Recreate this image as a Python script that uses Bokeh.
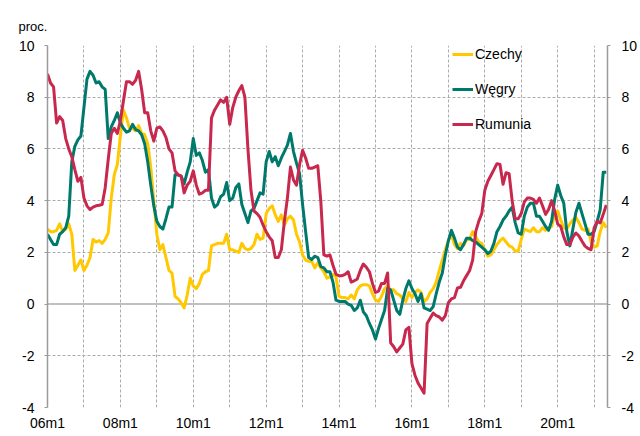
from bokeh.plotting import figure
from bokeh.models import (Range1d, FixedTicker, LinearAxis, Span, Title)
from bokeh.embed import file_html
from bokeh.resources import INLINE

# ---- data (monthly, 2006m1 .. 2021m5) ----
czechy = [
    2.9, 2.8, 2.8, 2.85, 3.1, 2.8, 2.9, 3.1, 2.7, 1.3, 1.5, 1.7,
    1.3, 1.5, 1.8, 2.5, 2.4, 2.45, 2.35, 2.5, 2.75, 4.1, 5.0, 5.4,
    6.5, 7.5, 7.2, 6.8, 6.8, 6.7, 6.9, 6.6, 6.55, 6.2, 5.3, 4.0,
    2.7, 2.1, 2.3, 1.8, 1.3, 1.2, 0.3, 0.2, 0.05, -0.15, 0.35, 1.0,
    0.7, 0.6, 0.8, 1.15, 1.25, 1.3, 2.25, 2.3, 2.35, 2.35, 2.35, 2.7,
    2.1, 2.1, 2.05, 2.0, 2.35, 2.15, 2.1, 2.15, 2.3, 2.7, 2.5, 2.55,
    3.5, 3.7, 3.8, 3.45, 3.2, 3.45, 3.05, 3.3, 3.4, 3.25, 2.7, 2.4,
    1.9, 1.7, 1.65, 1.65, 1.4, 1.6, 1.4, 1.25, 1.0, 1.05, 1.15, 1.05,
    0.3, 0.25, 0.25, 0.2, 0.35, 0.2, 0.55, 0.7, 0.75, 0.75, 0.7, 0.4,
    0.15, 0.1, 0.3, 0.6, 0.7, 0.55, 0.55, 0.4, 0.35, 0.2, 0.1, 0.45,
    0.25, 0.45, 0.55, 0.45, 0.1, 0.2, 0.45, 0.6, 0.85, 1.3, 1.7, 2.1,
    2.45, 2.7, 2.3, 2.15, 2.35, 2.25, 2.5, 2.5, 2.8, 2.6, 2.4, 2.35,
    2.1, 1.85, 1.9, 2.1, 2.3, 2.45, 2.55, 2.4, 2.25, 2.2, 2.05, 2.05,
    2.5, 2.9, 2.85, 2.8, 2.95, 2.8, 2.8, 2.95, 2.85, 2.95, 3.0, 3.45,
    3.6, 3.25, 2.95, 2.9, 3.1, 3.25, 3.35, 3.15, 2.9, 2.85, 2.9, 2.4,
    2.2, 2.25, 2.8, 3.15, 2.95,
]
wegry = [
    2.7, 2.5, 2.3, 2.3, 2.7, 2.8, 2.95, 3.4, 5.5, 6.1, 6.35, 6.5,
    7.6, 8.7, 9.0, 8.85, 8.55, 8.6, 8.4, 8.3, 6.4, 6.85, 7.1, 7.4,
    7.0, 6.8, 6.65, 6.7, 6.95, 6.75, 6.7, 6.55, 6.2, 5.5, 4.6, 3.8,
    3.2, 3.0, 2.9, 3.3, 3.75, 3.75, 5.0, 5.0, 4.95, 4.65, 5.1, 5.5,
    6.4, 5.75, 5.85, 5.55, 5.1, 5.2, 4.1, 3.75, 3.85, 4.15, 4.25, 4.7,
    4.0, 4.1, 4.5, 4.65, 3.85, 3.5, 3.15, 3.6, 3.7, 4.0, 4.3, 4.25,
    5.5, 5.9, 5.5, 5.7, 5.35, 5.65, 5.9, 6.15, 6.6, 5.9, 5.45, 5.05,
    3.85, 2.8, 1.8, 1.72, 1.85, 1.8, 1.45, 1.4, 1.25, 1.25, 0.85, 0.15,
    0.1, 0.1, 0.1, 0.0, -0.05, -0.25, -0.15, 0.15, -0.3, -0.45, -0.75, -1.0,
    -1.35, -0.95, -0.6, -0.25, 0.6, 0.55, 0.15, -0.25, -0.4, 0.15, 0.6, 0.9,
    0.6, 0.4, 0.1, 0.4, -0.15, -0.2, -0.25, -0.1, 0.4, 0.85, 1.2, 1.9,
    2.45, 2.85, 2.55, 2.2, 2.1, 2.3, 2.55, 2.55, 2.45, 2.4, 2.3, 2.2,
    2.1, 1.95, 2.05, 2.35, 2.8, 3.0, 3.25, 3.4, 3.6, 3.75, 3.15, 2.75,
    2.7, 3.4, 3.75, 3.9, 3.9, 3.4, 3.4, 3.2, 3.0, 2.85, 3.2, 4.05,
    4.6, 4.2, 3.9, 2.8, 2.25, 2.9, 3.55, 3.9, 3.5, 3.1, 2.7, 2.7,
    2.8, 3.2, 3.65, 5.1, 5.1,
]
rumunia = [
    8.9, 8.55, 8.4, 7.0, 7.25, 7.1, 6.4, 6.0, 5.7, 5.2, 4.75, 4.9,
    4.1, 3.8, 3.65, 3.75, 3.8, 3.82, 3.85, 4.5, 5.6, 6.6, 6.8, 6.6,
    7.1, 7.85, 8.6, 8.6, 8.5, 8.65, 9.0, 8.3, 7.4, 7.4, 6.7, 6.3,
    6.8, 6.85, 6.7, 6.45, 6.0, 5.85, 5.15, 5.0, 4.95, 4.3, 4.6, 4.75,
    5.15, 4.6, 4.25, 4.3, 4.4, 4.4, 7.2, 7.5, 7.7, 7.9, 7.8, 8.0,
    6.95, 7.6, 8.0, 8.25, 8.45, 8.0, 6.0, 4.4, 3.6, 3.5, 3.35, 3.05,
    2.8, 2.6, 2.45, 1.8, 1.8, 2.1, 3.2, 4.1, 5.3, 4.8, 4.6, 5.4,
    5.95, 5.65, 5.25, 5.25, 5.3, 5.35, 3.97, 1.9, 1.85, 1.9, 1.5, 1.15,
    1.1, 1.1, 1.15, 1.25, 0.85, 0.9, 0.97, 1.3, 1.55, 1.42, 1.25, 0.8,
    0.45, 0.5, 0.8, 0.8, 1.2, -1.5, -1.65, -1.85, -1.7, -1.55, -1.0, -0.9,
    -2.3, -2.75, -3.05, -3.25, -3.45, -0.75, -0.55, -0.35, -0.45, -0.5, -0.62, -0.45,
    0.05, 0.2, 0.25, 0.62, 0.65, 0.9, 1.1, 1.3, 1.7, 2.8, 3.2, 3.5,
    4.4, 4.75, 4.97, 5.2, 5.43, 5.4, 4.63, 5.08, 5.04, 4.0, 3.3, 3.3,
    3.5, 3.95, 4.1, 4.1, 4.05, 3.9, 4.1, 3.8, 3.47, 3.66, 4.0, 3.6,
    3.1, 3.0, 2.6, 2.3, 2.3, 2.59, 2.75, 2.63, 2.43, 2.24, 2.15, 2.1,
    2.95, 3.2, 3.14, 3.47, 3.83,
]
series_names = ["Czechy", "Węgry", "Rumunia"]
x_tick_labels = ["06m1", "08m1", "10m1", "12m1", "14m1", "16m1", "18m1", "20m1"]
y_ticks = [-4, -2, 0, 2, 4, 6, 8, 10]

months = list(range(len(czechy)))
x_label_pos = [24 * k for k in range(len(x_tick_labels))]
x_grid_pos = [12 * k for k in range(1, 16)]

FONT = "Liberation Sans"
colors = ["#FFC800", "#00796D", "#C8284E"]

p = figure(width=640, height=436, output_backend="svg", toolbar_location=None,
           x_range=Range1d(0, 184.4), y_range=Range1d(-4, 10),
           min_border_left=47, min_border_right=32, min_border_top=45,
           min_border_bottom=29)
p.outline_line_color = None
p.background_fill_color = "white"

p.title = Title(text="proc.", align="left", offset=-29, standoff=24,
                text_font=FONT, text_font_size="13px", text_font_style="normal",
                text_color="#000000")

# grids
p.xgrid.ticker = FixedTicker(ticks=x_grid_pos)
p.ygrid.ticker = FixedTicker(ticks=[t for t in y_ticks if t != 0])
for g in (p.xgrid, p.ygrid):
    g.grid_line_color = "#ababab"
    g.grid_line_dash = "3 2"
    g.grid_line_width = 1

# bottom axis
xa = p.xaxis[0]
xa.ticker = FixedTicker(ticks=x_label_pos)
xa.major_label_overrides = {pos: lab for pos, lab in zip(x_label_pos, x_tick_labels)}
xa.axis_line_color = None
xa.major_tick_line_color = None
xa.major_tick_out = 0
xa.major_tick_in = 0
xa.minor_tick_line_color = None
xa.major_label_standoff = 7
xa.major_label_text_font = FONT
xa.major_label_text_font_size = "14px"
xa.major_label_text_color = "#000000"

y_over = {t: str(t) for t in y_ticks}


def style_y(ax, standoff):
    ax.ticker = FixedTicker(ticks=y_ticks)
    ax.major_label_overrides = y_over
    ax.axis_line_color = "#9a9a9a"
    ax.axis_line_width = 1.5
    ax.major_tick_line_color = "#9a9a9a"
    ax.major_tick_out = 3
    ax.major_tick_in = 0
    ax.minor_tick_line_color = None
    ax.major_label_standoff = standoff
    ax.major_label_text_font = FONT
    ax.major_label_text_font_size = "14px"
    ax.major_label_text_color = "#000000"


style_y(p.yaxis[0], 10)
ra = LinearAxis()
style_y(ra, 11)
p.add_layout(ra, "right")

# zero line
p.add_layout(Span(location=0, dimension="width", line_color="#c0c0c0",
                  line_width=2, level="underlay"))

for data, name, col in zip([czechy, wegry, rumunia], series_names, colors):
    p.line(months, data, line_color=col, line_width=3, line_join="round",
           legend_label=name)

lg = p.legend[0]
lg.location = (405, 274)
lg.padding = 0
lg.margin = 0
lg.spacing = 17
lg.glyph_width = 21
lg.glyph_height = 18
lg.label_height = 18
lg.label_standoff = 2
lg.border_line_color = None
lg.background_fill_alpha = 0
lg.label_text_font = FONT
lg.label_text_font_size = "14px"
lg.label_text_color = "#000000"

open("out.html", "w").write(file_html(p, INLINE))
